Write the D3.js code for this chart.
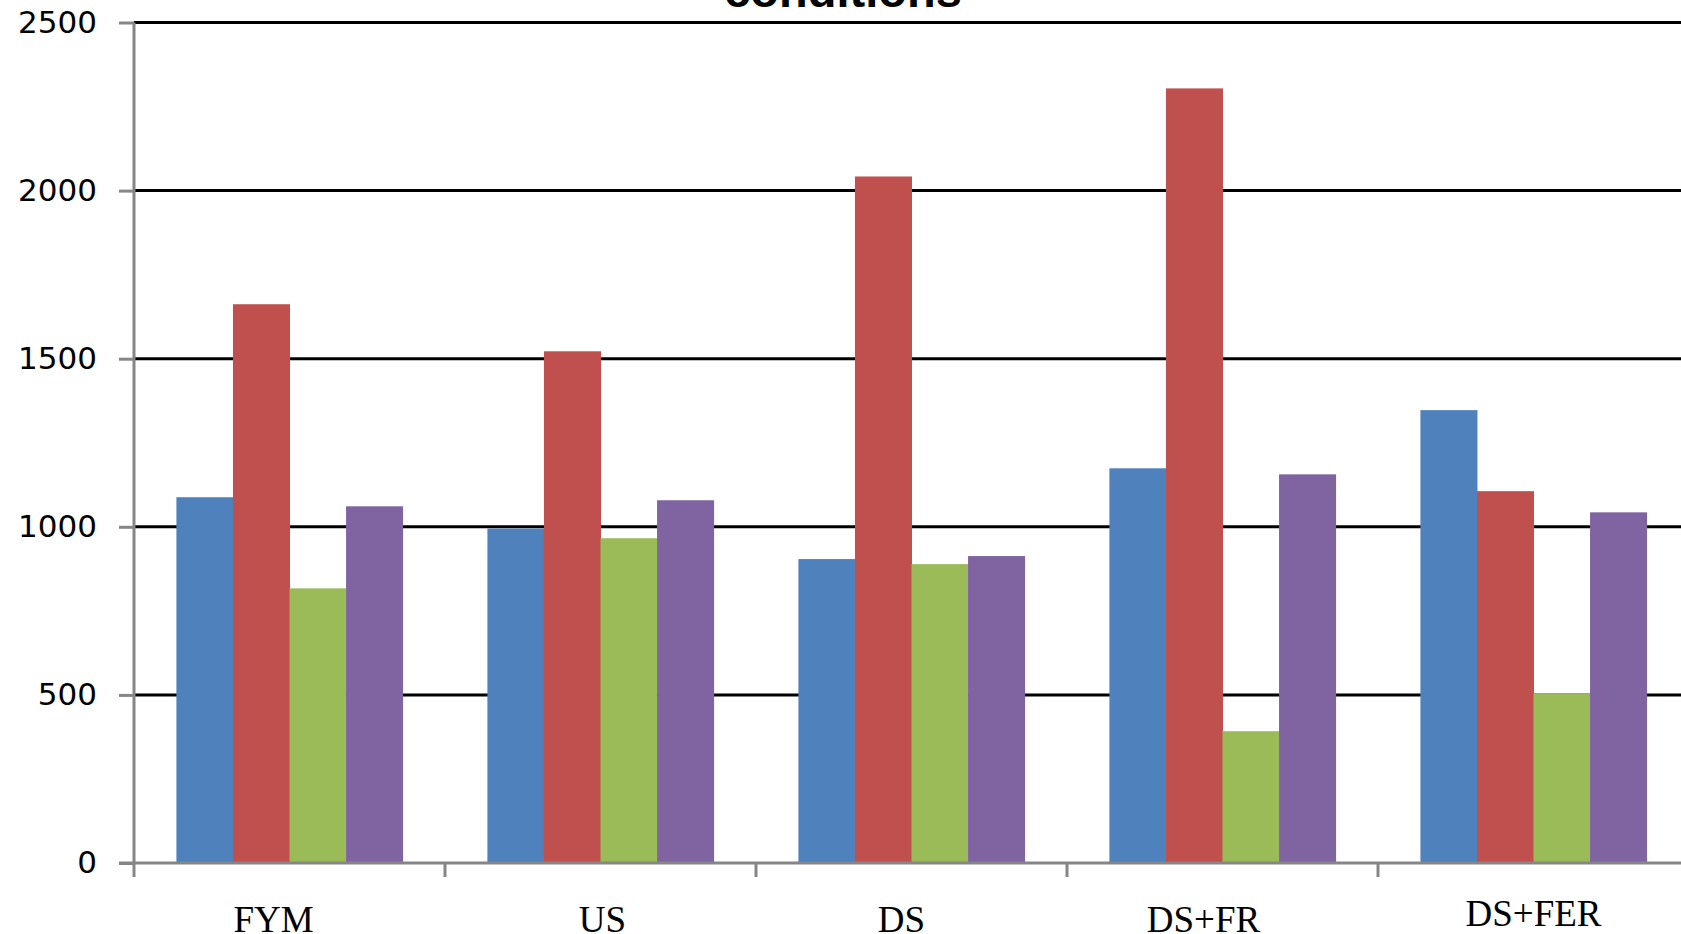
<!DOCTYPE html>
<html>
<head>
<meta charset="utf-8">
<script src="https://cdn.jsdelivr.net/npm/d3@7"></script>
<style>
body { margin: 0; overflow: hidden; background: #fff; }
</style>
</head>
<body>
<script>
var w = 1681;
var h = 934;

// data
var categories = ["FYM", "US", "DS", "DS+FR", "DS+FER"];
var seriesNames = ["Series 1", "Series 2", "Series 3", "Series 4"];
var series1 = [1088, 995, 904, 1174, 1347];
var series2 = [1662, 1522, 2042, 2304, 1106];
var series3 = [817, 966, 889, 392, 505];
var series4 = [1061, 1079, 913, 1156, 1043];
var yTicks = [0, 500, 1000, 1500, 2000, 2500];
var titleText = "conditions";

var colors = ["#4F81BD", "#C0504D", "#9BBB59", "#8064A2"];
// small nudges of the hand-placed category labels
var labelNudge = [-16, 2, -10, -19, 0];
var labelBase = [932, 932, 932, 932, 926];

var allSeries = [series1, series2, series3, series4];

var svg = d3.select("body").append("svg")
	.attr("width", w)
	.attr("height", h);

var left = 134;
var bandW = 311;
var x0 = d3.scaleBand()
	.domain(categories)
	.range([left, left + bandW * categories.length])
	.padding(0);

var gap = bandW * 0.75 / 5.5;
var x1 = d3.scaleBand()
	.domain(seriesNames)
	.range([gap, bandW - gap])
	.padding(0);

var y = d3.scaleLinear()
	.domain([0, 2500])
	.range([863, 22.5]);

// gridlines
svg.append("g")
	.selectAll("line")
	.data(yTicks.filter(function(d) { return d > 0; }))
	.enter().append("line")
	.attr("x1", left)
	.attr("x2", w)
	.attr("y1", function(d) { return y(d); })
	.attr("y2", function(d) { return y(d); })
	.attr("stroke", "#000")
	.attr("stroke-width", 3);

// bars
var groups = svg.append("g").selectAll("g")
	.data(categories)
	.enter().append("g")
	.attr("transform", function(d) { return "translate(" + x0(d) + ",0)"; });

groups.selectAll("rect")
	.data(function(d, i) {
		return seriesNames.map(function(s, j) { return { s: s, j: j, v: allSeries[j][i] }; });
	})
	.enter().append("rect")
	.attr("x", function(d) { return x1(d.s); })
	.attr("width", x1.bandwidth() + 0.5)
	.attr("y", function(d) { return y(d.v); })
	.attr("height", function(d) { return y(0) - y(d.v); })
	.attr("fill", function(d) { return colors[d.j]; });

// y axis
var yAxis = svg.append("g")
	.attr("transform", "translate(" + left + ",0)")
	.call(d3.axisLeft(y).tickValues(yTicks).tickSize(15).tickPadding(22).tickFormat(d3.format("d")));
yAxis.select(".domain").attr("stroke", "#868686").attr("stroke-width", 3)
	.attr("d", "M0," + y(2500) + "V" + y(0));
yAxis.selectAll(".tick line").attr("stroke", "#868686").attr("stroke-width", 3);
yAxis.selectAll(".tick text")
	.attr("fill", "#000")
	.style("font-family", "DejaVu Sans, sans-serif")
	.style("font-size", "31px")
	.style("letter-spacing", "0px");

// x axis
var xAxis = svg.append("g")
	.attr("transform", "translate(0," + y(0) + ")");
xAxis.append("line")
	.attr("x1", left - 15).attr("x2", w)
	.attr("y1", 0).attr("y2", 0)
	.attr("stroke", "#868686").attr("stroke-width", 3);
xAxis.selectAll(".xt")
	.data(categories.concat(["end"]))
	.enter().append("line")
	.attr("class", "xt")
	.attr("x1", function(d, i) { return left + i * x0.bandwidth(); })
	.attr("x2", function(d, i) { return left + i * x0.bandwidth(); })
	.attr("y1", 0).attr("y2", 14)
	.attr("stroke", "#868686").attr("stroke-width", 3);

svg.append("g").selectAll("text")
	.data(categories)
	.enter().append("text")
	.attr("x", function(d, i) { return x0(d) + x0.bandwidth() / 2 + labelNudge[i]; })
	.attr("y", function(d, i) { return labelBase[i]; })
	.attr("text-anchor", "middle")
	.style("font-family", "Liberation Serif, Times New Roman, serif")
	.style("font-size", "37px")
	.attr("fill", "#000")
	.text(function(d) { return d; });

// title, cut off by the top edge
svg.append("text")
	.attr("x", 843)
	.attr("y", 7)
	.attr("text-anchor", "middle")
	.style("font-family", "Liberation Sans, Arial, sans-serif")
	.style("font-weight", "bold")
	.style("font-size", "47px")
	.attr("fill", "#000")
	.text(titleText);
</script>
</body>
</html>
